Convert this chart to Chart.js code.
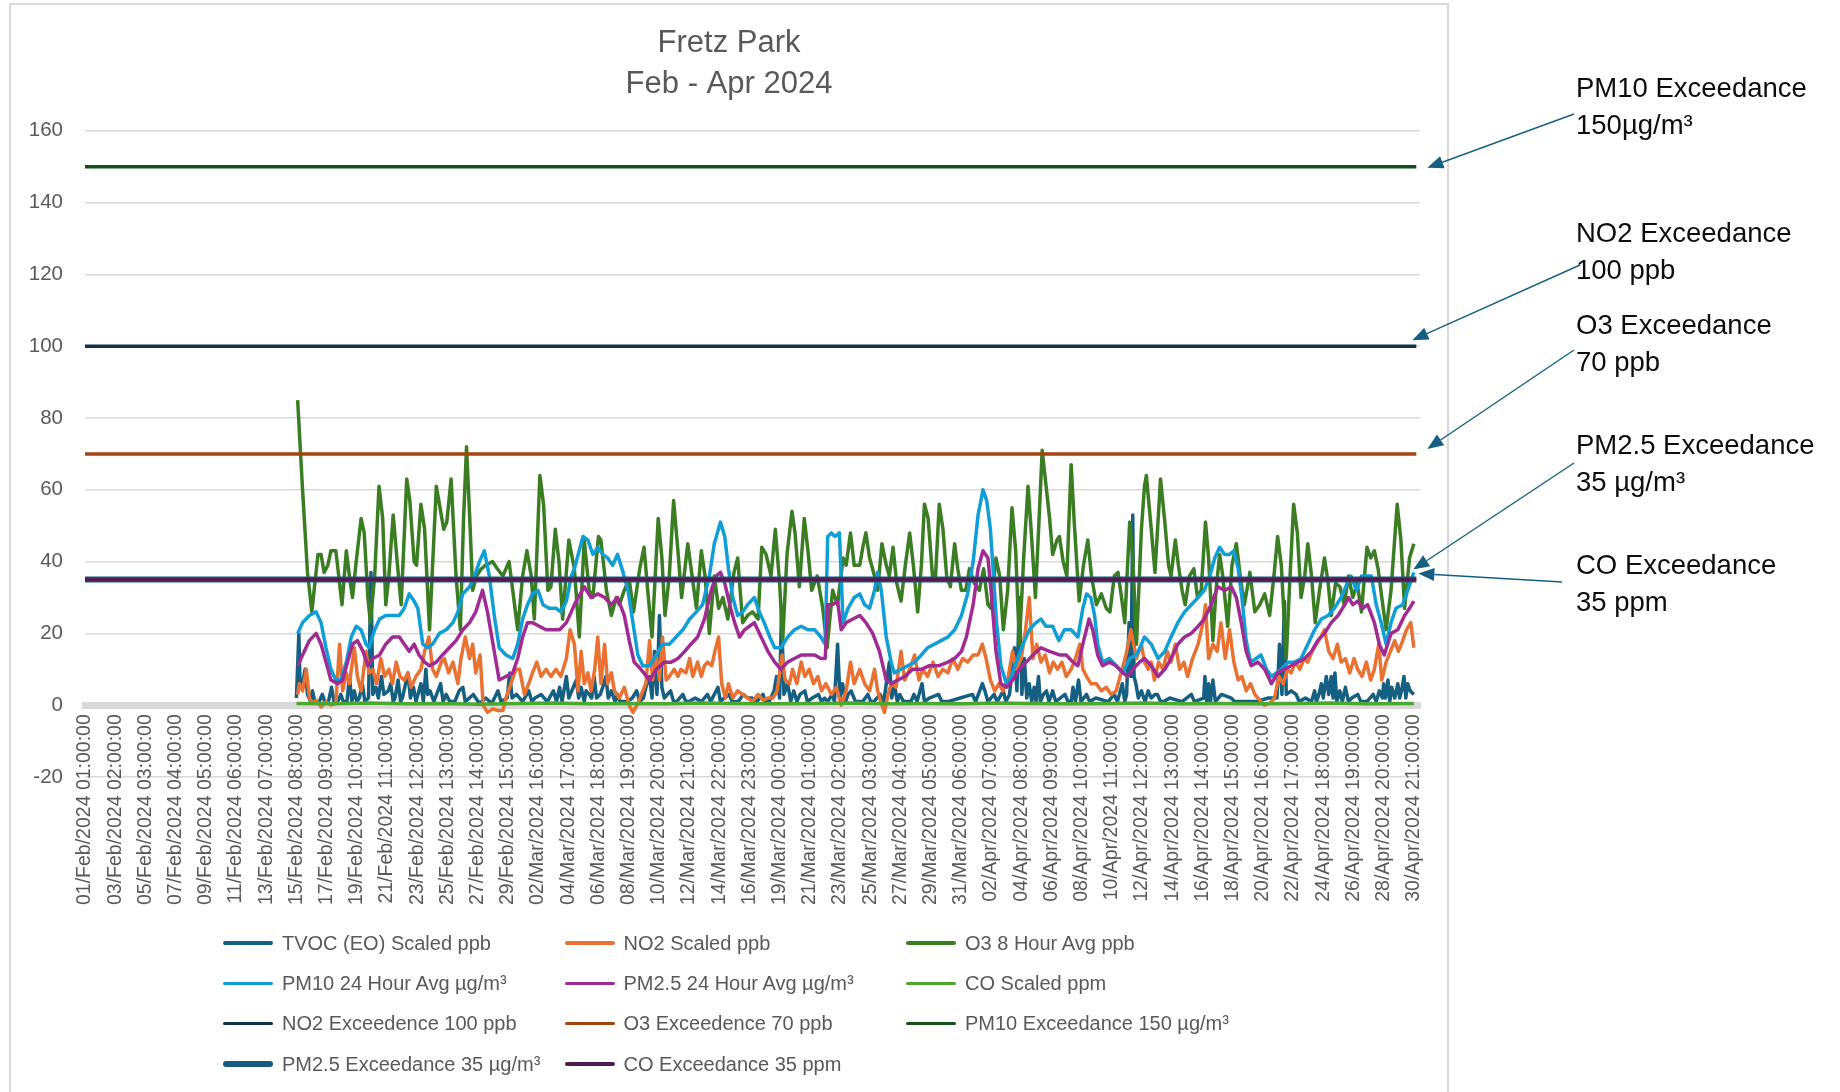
<!DOCTYPE html>
<html>
<head>
<meta charset="utf-8">
<title>Fretz Park</title>
<script src="https://cdn.jsdelivr.net/npm/chart.js@4.4.1/dist/chart.umd.min.js"></script>
<style>
  html, body { margin: 0; padding: 0; background: #fff; }
  #wrap { position: relative; width: 1840px; height: 1092px; overflow: hidden; }
  #legend {
    position: absolute; left: 223px; top: 923px;
    display: grid; grid-template-columns: repeat(3, 341.5px); grid-auto-rows: 40.3px;
    font: 20px 'Liberation Sans', Arial, sans-serif; color: #595959;
  }
  #legend .item { display: flex; align-items: center; white-space: nowrap; }
  #legend .swatch { width: 50px; margin-right: 9px; border-radius: 3px; }
</style>
</head>
<body>
<div id="wrap">
  <canvas id="airChart" width="1840" height="1092"></canvas>
  <div id="legend"></div>
</div>
<script>
// 横軸の目盛りラベル（49時間ごと）
const tickLabels = [
  '01/Feb/2024 01:00:00', '03/Feb/2024 02:00:00', '05/Feb/2024 03:00:00', '07/Feb/2024 04:00:00',
  '09/Feb/2024 05:00:00', '11/Feb/2024 06:00:00', '13/Feb/2024 07:00:00', '15/Feb/2024 08:00:00',
  '17/Feb/2024 09:00:00', '19/Feb/2024 10:00:00', '21/Feb/2024 11:00:00', '23/Feb/2024 12:00:00',
  '25/Feb/2024 13:00:00', '27/Feb/2024 14:00:00', '29/Feb/2024 15:00:00', '02/Mar/2024 16:00:00',
  '04/Mar/2024 17:00:00', '06/Mar/2024 18:00:00', '08/Mar/2024 19:00:00', '10/Mar/2024 20:00:00',
  '12/Mar/2024 21:00:00', '14/Mar/2024 22:00:00', '16/Mar/2024 23:00:00', '19/Mar/2024 00:00:00',
  '21/Mar/2024 01:00:00', '23/Mar/2024 02:00:00', '25/Mar/2024 03:00:00', '27/Mar/2024 04:00:00',
  '29/Mar/2024 05:00:00', '31/Mar/2024 06:00:00', '02/Apr/2024 07:00:00', '04/Apr/2024 08:00:00',
  '06/Apr/2024 09:00:00', '08/Apr/2024 10:00:00', '10/Apr/2024 11:00:00', '12/Apr/2024 12:00:00',
  '14/Apr/2024 13:00:00', '16/Apr/2024 14:00:00', '18/Apr/2024 15:00:00', '20/Apr/2024 16:00:00',
  '22/Apr/2024 17:00:00', '24/Apr/2024 18:00:00', '26/Apr/2024 19:00:00', '28/Apr/2024 20:00:00',
  '30/Apr/2024 21:00:00'
];
const tickStep = 49;   // 目盛り間隔（時間）
const hourMax = 2166;  // 横軸の右端（時間）

// 各系列 [01/Feb 01:00 からの経過時間, 値]
const tvocPpb = [
  [343,2],[347,20],[349,5],[353,6],[357,10],[361,3],[366,1],[369,4],[373,1],[380,1],[385,3],[389,1],[395,1],
  [400,5],[404,1],[410,1],[415,3],[419,1],[425,1],[429,8],[433,1],[437,4],[441,1],[445,2],[450,6],[454,1],
  [460,2],[464,37],[467,3],[472,5],[476,2],[481,8],[485,3],[492,4],[496,6],[500,1],[503,2],[508,7],[512,1],
  [515,2],[524,9],[528,2],[533,5],[537,1],[545,6],[549,1],[553,10],[556,3],[560,4],[566,1],[577,6],[581,1],
  [586,3],[592,1],[600,1],[607,4],[613,5],[617,1],[630,3],[640,0.5],[650,2],[660,0.5],[670,4],[675,1],
  [685,2],[689,9],[693,2],[700,3],[710,1],[720,4],[725,1],[730,2],[740,3],[750,1],[760,4],[765,1],[770,5],
  [774,1],[781,8],[785,2],
  [797,7],[801,2],[805,5],[810,1],[813,4],[818,3],[822,2],[826,8],[830,2],[836,3],[840,5],[845,8],[849,2],
  [854,4],[860,1],[864,3],[868,1],[880,1],[888,2],[895,4],[900,1],[906,2],[910,5],[916,8],[920,2],[924,15],
  [928,3],[932,25],[936,5],[940,2],[945,3],[950,4],[955,1],[960,1],[970,3],[975,1],[980,1],[990,2],[1000,1],
  [1010,3],[1015,1],[1027,5],[1031,1],[1037,2],[1045,3],[1050,1],[1060,1],[1068,3],[1075,2],[1082,2],
  [1090,1],[1100,3],[1104,1],[1110,1],[1118,4],[1122,8],[1127,2],[1130,26],[1134,3],[1140,6],[1145,1],
  [1150,4],[1155,1],[1160,3],[1168,4],[1172,1],[1180,2],[1190,3],[1195,1],[1200,2],[1205,1],[1212,3],
  [1216,1],[1221,17],[1225,2],[1229,6],[1234,1],[1238,3],[1243,4],[1250,1],
  [1257,1],[1262,1],[1270,3],[1275,1],[1280,1],[1290,3],[1296,1],[1305,12],[1309,2],[1313,6],[1318,1],
  [1322,3],[1328,1],[1340,1],[1345,3],[1350,1],[1358,6],[1362,1],[1370,2],[1385,3],[1390,1],[1400,1],
  [1420,2],[1440,3],[1445,1],[1456,6],[1460,4],[1465,1],[1475,3],[1480,1],[1490,4],[1494,1],[1500,3],
  [1508,16],[1512,4],[1516,30],[1520,3],[1524,13],[1528,2],[1532,6],[1536,1],[1540,5],[1543,1],[1547,8],
  [1550,1],[1555,3],[1560,4],[1564,1],[1570,4],[1575,1],[1590,3],[1595,1],[1600,1],[1603,5],[1607,1],
  [1612,7],[1616,1],[1625,3],[1630,1],[1640,2],[1660,1],[1670,3],[1675,1],[1683,6],[1687,1],[1690,3],
  [1694,23],[1697,8],[1700,53],[1702,8],[1705,6],[1709,2],[1714,4],
  [1720,1],[1725,4],[1730,2],[1736,3],[1740,3],[1745,1],[1750,1],[1760,2],[1780,1],[1795,3],[1800,1],
  [1815,2],[1817,8],[1820,1],[1823,6],[1826,1],[1830,7],[1834,1],[1844,3],[1860,2],[1865,1],[1880,1],
  [1900,1],[1920,2],[1934,2],[1938,17],[1942,3],[1946,29],[1949,3],[1957,4],[1965,3],[1970,1],[1980,2],
  [1990,1],[1995,4],[1998,1],[2002,3],[2006,6],[2009,2],[2014,8],[2018,3],[2022,8],[2025,2],[2028,9],
  [2031,1],[2036,4],[2040,1],[2045,5],[2050,1],[2055,2],[2065,3],[2070,1],[2080,1],[2090,3],[2095,1],
  [2100,4],[2105,2],[2107,6],[2110,2],[2114,7],[2117,1],[2120,5],[2125,2],[2130,6],[2133,2],[2136,4],
  [2140,8],[2143,2],[2146,6],[2150,4],[2156,3]
];
const no2Ppb = [
  [345,3],[348,6],[353,4],[359,10],[364,2],[370,0.5],[375,1.4],[383,-0.5],[391,1],[399,0],[407,0.5],[413,17],
  [418,4],[424,9],[429,6],[437,16],[442,8],[448,4],[456,15],[461,9],[467,10],[473,6],[480,13],[486,8],
  [493,10],[499,6],[505,12],[511,8],[518,7],[524,9],[529,5],[537,8],[545,10],[551,15],[558,19],[564,10],
  [570,8],[578,12],[583,13],[590,9],[597,12],[605,6],[610,13],[617,19],[624,13],[629,17],[634,9],[641,14],
  [646,0],[653,-2],[662,-1],[670,-1.5],[678,-1.5],[683,2],[691,6],[699,10],[705,10],[713,3],[720,6],
  [726,9],[733,12],[740,8],[748,10],[756,8],[764,10],[772,8],[781,13],[787,21],[794,17],
  [800,4],[805,15],[810,6],[816,9],[821,4],[827,10],[832,19],[837,6],[843,17],[848,6],[854,9],[859,4],
  [867,2],[875,5],[883,0],[889,-2],[897,0.5],[905,4],[910,6],[916,18],[921,7],[927,14],[932,7],[937,19],
  [943,7],[948,8],[956,10],[962,8],[967,10],[975,9],[981,13],[986,8],[994,12],[1000,8],[1005,11],[1010,12],
  [1017,11],[1022,15],[1028,19],[1033,6],[1039,2],[1044,6],[1051,2],[1059,4],[1067,3],[1075,2],[1083,1],
  [1092,3],[1100,1.4],[1108,2],[1116,2],[1123,4],[1131,14],[1136,7],[1143,6],[1148,10],[1155,6],[1162,12],
  [1168,8],[1175,10],[1182,6],[1189,8],[1195,4],[1202,6],[1211,3],[1219,5],[1227,0],[1235,4],[1242,12],
  [1248,6],[1257,10],
  [1265,6],[1273,4],[1281,10],[1286,4],[1292,0.5],[1297,-2],[1303,3],[1308,6],[1316,5],[1324,15],[1330,7],
  [1338,10],[1346,14],[1353,7],[1359,10],[1367,8],[1376,12],[1384,8],[1392,10],[1400,9],[1408,13],[1416,10],
  [1424,13],[1432,12],[1441,14],[1449,14],[1456,17],[1462,13],[1469,7],[1476,4],[1483,6],[1489,4],[1497,7],
  [1505,15],[1511,10],[1519,13],[1526,21],[1532,30],[1538,13],[1544,17],[1551,12],[1558,14],[1565,9],
  [1571,12],[1578,10],[1585,12],[1592,8],[1600,10],[1607,13],[1614,17],[1619,10],[1625,8],[1632,6],
  [1641,6],[1649,4],[1657,5],[1665,3],[1673,4],[1681,9],[1689,14],[1697,21],[1706,13],[1714,17],[1719,12],
  [1725,10],[1730,12],[1735,7],[1742,12],[1749,10],[1756,15],[1762,12],[1769,17],[1776,10],[1783,12],
  [1789,8],[1797,13],[1806,17],[1814,23],[1818,28],[1823,13],[1830,17],[1837,15],[1843,23],[1850,13],
  [1857,21],[1864,12],[1871,7],[1877,8],[1884,4],[1891,6],[1898,3],[1906,1.4],[1914,0],[1922,0.5],[1930,2],
  [1937,8],[1944,6],[1951,10],[1957,9],[1964,12],[1971,10],[1978,13],[1984,12],[1991,15],[1998,17],
  [2005,19],[2011,21],[2018,15],[2025,13],[2032,17],[2038,12],[2045,13],[2052,9],[2059,13],[2065,10],
  [2072,8],[2079,12],[2086,7],[2092,10],[2099,17],[2104,7],[2111,12],[2118,15],[2125,18],[2131,15],
  [2138,18],[2144,21],[2151,23],[2156,16]
];
const o3Ppb = [
  [345,85],[353,60],[361,37],[368,26],[378,42],[383,42],[388,37],[394,39],[399,43],[407,43],[413,34],[417,28],
  [424,43],[429,36],[434,30],[440,40],[448,52],[453,48],[459,30],[463,23],[470,36],[477,61],[483,52],[488,28],
  [493,36],[500,53],[507,39],[513,28],[522,63],[527,57],[534,40],[538,39],[545,56],[551,49],[559,21],[570,61],
  [574,57],[582,49],[587,51],[594,63],[602,36],[609,21],[614,51],[619,72],[624,53],[629,32],[635,36],[643,38],
  [650,39],[661,40],[669,38],[678,36],[688,40],[694,32],[702,21],[710,36],[717,43],[724,36],[729,24],[738,64],
  [744,56],[751,32],[756,33],[763,49],[769,40],[775,24],[785,46],[794,38],
  [802,19],[810,46],[818,32],[824,30],[833,47],[837,46],[846,32],[854,25],[862,30],[867,28],[875,32],[883,35],
  [890,26],[900,38],[907,44],[913,32],[920,19],[930,52],[936,41],[941,25],[948,36],[955,57],[962,43],[968,30],
  [978,45],[985,36],[992,27],[1000,43],[1006,36],[1013,20],[1021,36],[1028,27],[1035,30],[1043,24],[1053,37],
  [1059,41],[1067,23],[1075,25],[1083,26],[1092,24],[1098,44],[1105,42],[1113,36],[1120,49],[1127,34],
  [1132,18],[1139,42],[1147,54],[1152,48],[1159,33],[1167,52],[1173,43],[1179,32],[1188,36],[1197,27],
  [1204,16],[1213,32],[1221,28],[1230,41],[1235,39],[1242,48],[1248,39],[1257,39],
  [1262,44],[1267,48],[1273,41],[1281,36],[1286,32],[1293,45],[1300,39],[1305,36],[1311,44],[1317,34],
  [1324,29],[1331,39],[1338,48],[1344,39],[1351,26],[1357,39],[1362,56],[1368,52],[1375,36],[1380,36],
  [1386,56],[1392,49],[1398,36],[1404,33],[1411,45],[1416,38],[1422,32],[1429,32],[1435,38],[1443,34],
  [1451,32],[1458,38],[1465,28],[1470,27],[1478,41],[1484,36],[1490,21],[1497,32],[1504,55],[1510,43],
  [1516,17],[1523,41],[1530,61],[1535,49],[1542,30],[1548,52],[1553,71],[1560,60],[1565,52],[1570,42],
  [1577,46],[1581,47],[1587,40],[1593,36],[1600,67],[1605,51],[1613,29],[1620,39],[1627,46],[1633,36],
  [1641,28],[1649,31],[1657,27],[1663,26],[1670,36],[1676,37],[1681,31],[1687,23],[1695,51],[1700,41],
  [1706,17],[1714,49],[1719,61],
  [1722,64],[1730,49],[1736,37],[1745,63],[1752,51],[1758,39],[1762,36],[1769,46],[1774,39],[1780,32],
  [1785,28],[1792,36],[1799,38],[1805,30],[1811,32],[1818,51],[1823,41],[1830,18],[1835,32],[1841,42],
  [1846,36],[1854,22],[1861,39],[1868,45],[1875,35],[1881,28],[1890,37],[1898,26],[1906,28],[1914,31],
  [1922,25],[1929,36],[1935,47],[1941,39],[1949,13],[1954,32],[1961,56],[1967,48],[1973,30],[1979,36],
  [1984,45],[1990,36],[1996,23],[2003,32],[2011,41],[2017,34],[2022,25],[2029,34],[2036,33],[2043,28],
  [2050,36],[2057,30],[2064,34],[2071,26],[2080,44],[2086,41],[2092,43],[2098,38],[2104,30],[2111,21],
  [2119,32],[2129,56],[2135,46],[2141,27],[2149,41],[2156,45]
];
const pm10Ugm3 = [
  [345,20],[353,23],[364,25],[375,26],[383,23],[391,16],[399,10],[407,7],[415,7],[424,12],[432,19],[440,22],
  [448,21],[456,17],[461,16],[470,21],[478,24],[488,25],[499,25],[510,25],[518,27],[526,31],[534,29],[540,27],
  [548,17],[556,16],[564,17],[575,20],[586,21],[597,23],[605,26],[613,31],[624,33],[632,36],[640,40],[648,43],
  [656,36],[664,25],[672,16],[683,14],[694,13],[702,17],[710,24],[718,28],[726,31],[735,32],[743,28],[753,27],
  [764,27],[772,26],[781,29],[789,36],[794,38],
  [808,47],[816,46],[824,42],[832,44],[840,42],[848,41],[856,39],[864,42],[873,37],[881,32],[889,23],[897,14],
  [905,11],[916,11],[927,14],[937,17],[948,17],[959,19],[970,21],[981,24],[992,26],[1002,28],[1013,36],
  [1021,45],[1031,51],[1038,47],[1044,38],[1051,30],[1059,25],[1067,26],[1075,28],[1086,30],[1094,26],
  [1102,23],[1111,19],[1119,16],[1129,16],[1140,19],[1151,21],[1162,22],[1173,21],[1184,21],[1194,19],
  [1201,17],[1205,47],[1211,48],[1217,47],[1224,48],[1230,23],[1238,27],[1248,30],[1257,31],
  [1265,28],[1273,27],[1281,32],[1286,37],[1292,32],[1300,19],[1308,12],[1313,9],[1324,10],[1335,11],
  [1346,12],[1357,14],[1367,16],[1378,17],[1389,18],[1400,19],[1411,21],[1422,25],[1432,31],[1441,40],
  [1449,53],[1457,60],[1463,57],[1469,49],[1474,36],[1479,23],[1486,11],[1495,6],[1503,8],[1511,12],
  [1522,17],[1532,21],[1543,23],[1551,24],[1559,22],[1570,22],[1580,18],[1589,21],[1600,21],[1611,19],
  [1619,27],[1625,31],[1632,30],[1638,25],[1643,17],[1651,12],[1662,13],[1673,11],[1684,9],[1695,13],
  [1706,14],[1714,17],[1719,19],
  [1730,17],[1741,13],[1752,15],[1762,19],[1773,23],[1784,26],[1795,28],[1806,30],[1816,32],[1825,36],
  [1833,41],[1841,44],[1849,42],[1857,42],[1864,43],[1871,38],[1877,30],[1884,18],[1891,12],[1900,13],
  [1908,14],[1917,10],[1925,8],[1933,9],[1941,10],[1952,12],[1963,12],[1973,13],[1984,17],[1995,21],
  [2006,24],[2017,25],[2027,27],[2038,30],[2048,34],[2054,36],[2063,32],[2071,36],[2079,36],[2087,36],
  [2095,28],[2103,23],[2111,17],[2119,23],[2127,27],[2138,28],[2146,32],[2156,37]
];
const pm25Ugm3 = [
  [345,11],[353,14],[364,18],[375,20],[383,17],[391,12],[399,7],[410,6],[418,7],[426,12],[434,17],[442,18],
  [451,15],[459,11],[467,13],[478,14],[488,17],[499,19],[510,19],[518,17],[526,15],[534,17],[542,14],[551,12],
  [559,11],[570,12],[580,14],[591,16],[602,18],[613,21],[624,23],[634,26],[645,32],[653,26],[662,17],[672,7],
  [683,8],[694,9],[702,13],[710,19],[718,23],[726,23],[737,22],[748,21],[759,21],[770,21],[781,23],[789,26],
  [794,28],
  [810,33],[821,30],[832,31],[843,30],[854,28],[864,30],[875,25],[883,18],[891,12],[902,10],[916,7],[927,10],
  [940,12],[951,12],[962,13],[973,15],[983,17],[994,19],[1005,24],[1016,32],[1024,36],[1031,37],[1038,34],
  [1046,28],[1054,23],[1062,19],[1070,21],[1078,22],[1086,23],[1097,19],[1108,15],[1119,12],[1129,10],
  [1140,12],[1151,13],[1162,14],[1173,14],[1184,14],[1194,13],[1201,13],[1205,28],[1213,28],[1221,29],
  [1227,21],[1235,23],[1246,24],[1257,25],
  [1267,23],[1278,20],[1289,15],[1300,7],[1308,6],[1319,7],[1330,8],[1343,10],[1357,10],[1370,11],[1386,11],
  [1400,12],[1411,13],[1422,15],[1430,19],[1441,28],[1449,38],[1457,43],[1465,41],[1470,32],[1478,15],
  [1486,6],[1495,5],[1505,7],[1516,10],[1527,12],[1538,14],[1551,16],[1565,15],[1581,14],[1592,14],
  [1603,12],[1611,11],[1619,17],[1629,24],[1635,21],[1643,14],[1651,11],[1662,12],[1673,11],[1684,9],
  [1692,8],[1700,10],[1711,12],[1719,13],
  [1730,11],[1741,8],[1752,10],[1762,13],[1773,17],[1784,19],[1795,20],[1806,22],[1816,24],[1827,28],
  [1838,33],[1849,32],[1860,33],[1868,30],[1876,23],[1884,15],[1892,11],[1903,12],[1914,10],[1925,6],
  [1935,9],[1946,10],[1957,11],[1968,12],[1979,13],[1990,15],[2000,18],[2011,20],[2022,23],[2033,25],
  [2044,28],[2050,30],[2057,28],[2065,29],[2073,27],[2081,28],[2092,23],[2100,17],[2108,14],[2119,20],
  [2130,21],[2141,25],[2149,27],[2156,29]
];
const coPpm = [
  [343,0.5],[400,0.4],[460,0.6],[520,0.4],[580,0.5],[640,0.3],[700,0.5],[760,0.6],[820,0.4],[880,0.5],
  [940,0.4],[1000,0.6],[1060,0.5],[1120,0.4],[1180,0.5],[1240,0.6],[1300,0.4],[1360,0.5],[1420,0.4],
  [1480,0.6],[1540,0.5],[1600,0.4],[1660,0.5],[1720,0.6],[1780,0.4],[1840,0.5],[1900,0.4],[1960,0.5],
  [2020,0.6],[2080,0.4],[2156,0.5]
];

// 基準値（Exceedance）
const exceedSpan = [0, 2160];
const no2Limit = 100;
const o3Limit = 70;
const pm10Limit = 150;
const pm25Limit = 35;
const coLimit = 35;

const toPoints = (rows) => rows.map(([h, v]) => ({ x: h, y: v }));
const flatLine = (v) => exceedSpan.map((h) => ({ x: h, y: v }));

// 系列の表示設定
const seriesList = [
  { label: 'TVOC (EO) Scaled ppb', data: toPoints(tvocPpb), color: '#156082', width: 3.5 },
  { label: 'NO2 Scaled ppb', data: toPoints(no2Ppb), color: '#E97132', width: 3.5 },
  { label: 'O3 8 Hour Avg ppb', data: toPoints(o3Ppb), color: '#3B7D23', width: 3.5 },
  { label: 'PM10 24 Hour Avg µg/m³', data: toPoints(pm10Ugm3), color: '#0F9ED5', width: 3.5 },
  { label: 'PM2.5 24 Hour Avg µg/m³', data: toPoints(pm25Ugm3), color: '#A02B93', width: 3.5 },
  { label: 'CO Scaled ppm', data: toPoints(coPpm), color: '#4EA72E', width: 3.5 },
  { label: 'NO2 Exceedence 100 ppb', data: flatLine(no2Limit), color: '#0F3345', width: 3.5 },
  { label: 'O3 Exceedence 70 ppb', data: flatLine(o3Limit), color: '#A3430F', width: 3.5 },
  { label: 'PM10 Exceedance 150 µg/m³', data: flatLine(pm10Limit), color: '#13501C', width: 3.5 },
  { label: 'PM2.5 Exceedance 35 µg/m³', data: flatLine(pm25Limit), color: '#155C7E', width: 6 },
  { label: 'CO Exceedance 35 ppm', data: flatLine(coLimit), color: '#4E1A50', width: 3.5 },
];

// 右側の注記（矢印の先は基準線の右端）
const notes = [
  { text: ['PM10 Exceedance', '150µg/m³'], value: pm10Limit, textY: 89, tail: [1574, 114], tip: [11, 1] },
  { text: ['NO2 Exceedance', '100 ppb'], value: no2Limit, textY: 234, tail: [1580, 265], tip: [-4, -6] },
  { text: ['O3 Exceedance', '70 ppb'], value: o3Limit, textY: 326, tail: [1574, 350], tip: [11, -5] },
  { text: ['PM2.5 Exceedance', '35 µg/m³'], value: pm25Limit, textY: 446, tail: [1574, 463], tip: [-3, -10] },
  { text: ['CO Exceedance', '35 ppm'], value: coLimit, textY: 566, tail: [1562, 582], tip: [2, -6] },
];

function drawArrow(ctx, x1, y1, x2, y2) {
  const ang = Math.atan2(y2 - y1, x2 - x1);
  const len = 16;
  const half = 6.5;
  const bx = x2 - len * Math.cos(ang);
  const by = y2 - len * Math.sin(ang);
  ctx.beginPath();
  ctx.moveTo(x1, y1);
  ctx.lineTo(bx, by);
  ctx.stroke();
  ctx.beginPath();
  ctx.moveTo(x2, y2);
  ctx.lineTo(bx + half * Math.sin(ang), by - half * Math.cos(ang));
  ctx.lineTo(bx - half * Math.sin(ang), by + half * Math.cos(ang));
  ctx.closePath();
  ctx.fill();
}

// 枠線と注記を描くプラグイン
const frameAndNotes = {
  id: 'frameAndNotes',
  beforeDraw(chart) {
    const ctx = chart.ctx;
    ctx.save();
    ctx.fillStyle = '#fff';
    ctx.fillRect(0, 0, chart.width, chart.height);
    ctx.strokeStyle = '#d9d9d9';
    ctx.lineWidth = 2;
    ctx.strokeRect(10, 4, 1438, 1200);
    ctx.restore();
  },
  afterDraw(chart) {
    const ctx = chart.ctx;
    const xs = chart.scales.x;
    const ys = chart.scales.y;
    const endX = xs.getPixelForValue(exceedSpan[1]);
    ctx.save();
    ctx.font = "27.5px 'Liberation Sans', Arial, sans-serif";
    ctx.textBaseline = 'middle';
    ctx.strokeStyle = '#156082';
    notes.forEach((n) => {
      ctx.fillStyle = '#0d0d0d';
      ctx.fillText(n.text[0], 1576, n.textY);
      ctx.fillText(n.text[1], 1576, n.textY + 37.5);
      ctx.fillStyle = '#156082';
      ctx.lineWidth = 1.4;
      drawArrow(ctx, n.tail[0], n.tail[1], endX + n.tip[0], ys.getPixelForValue(n.value) + n.tip[1]);
    });
    ctx.restore();
  }
};

// 凡例はHTMLで3列に並べる
const htmlLegend = {
  id: 'htmlLegend',
  afterUpdate(chart) {
    const box = document.getElementById('legend');
    box.innerHTML = '';
    chart.data.datasets.forEach((ds) => {
      const item = document.createElement('div');
      item.className = 'item';
      const sw = document.createElement('span');
      sw.className = 'swatch';
      sw.style.background = ds.borderColor;
      sw.style.height = ds.borderWidth + 'px';
      const tx = document.createElement('span');
      tx.textContent = ds.label;
      item.append(sw, tx);
      box.appendChild(item);
    });
  }
};

document.addEventListener('DOMContentLoaded', () => {
  Chart.defaults.font.family = "'Liberation Sans', Arial, sans-serif";
  Chart.defaults.color = '#595959';

  const ctx = document.getElementById('airChart');

  new Chart(ctx, {
    type: 'line',
    data: {
      datasets: seriesList.map((s, i) => ({
        label: s.label,
        data: s.data,
        borderColor: s.color,
        backgroundColor: s.color,
        borderWidth: s.width,
        pointRadius: 0,
        tension: 0,
        fill: false,
        borderJoinStyle: 'round',
        order: -i,
      })),
    },
    options: {
      responsive: false,
      animation: false,
      events: [],
      layout: { padding: { left: 10, right: 392, top: 4, bottom: 315 } },
      plugins: {
        legend: { display: false },
        tooltip: { enabled: false },
        title: {
          display: true,
          text: ['Fretz Park', 'Feb - Apr 2024'],
          color: '#595959',
          font: { size: 31, weight: 'normal', lineHeight: 1.32 },
          padding: { top: 19, bottom: 26 },
        },
      },
      scales: {
        x: {
          type: 'linear',
          position: { y: 0 },
          min: 0,
          max: hourMax,
          afterBuildTicks(scale) {
            scale.ticks = tickLabels.map((_, i) => ({ value: i * tickStep }));
          },
          ticks: {
            autoSkip: false,
            minRotation: 90,
            maxRotation: 90,
            padding: 9,
            color: '#595959',
            font: { size: 19.5 },
            callback: (value, index) => tickLabels[index],
          },
          grid: { display: false, drawTicks: false },
          border: { display: true, color: '#d9d9d9', width: 7 },
        },
        y: {
          min: -20,
          max: 160,
          ticks: { stepSize: 20, padding: 22, color: '#595959', font: { size: 20.5 } },
          grid: { color: '#d9d9d9', lineWidth: 1.5, drawTicks: false },
          border: { display: false },
          afterFit(scale) { scale.width = 75; },
        },
        yPad: {
          position: 'right',
          display: true,
          ticks: { display: false },
          grid: { display: false, drawTicks: false },
          border: { display: false },
          afterFit(scale) { scale.width = 28; },
        },
      },
    },
    plugins: [frameAndNotes, htmlLegend],
  });
});
</script>
</body>
</html>
